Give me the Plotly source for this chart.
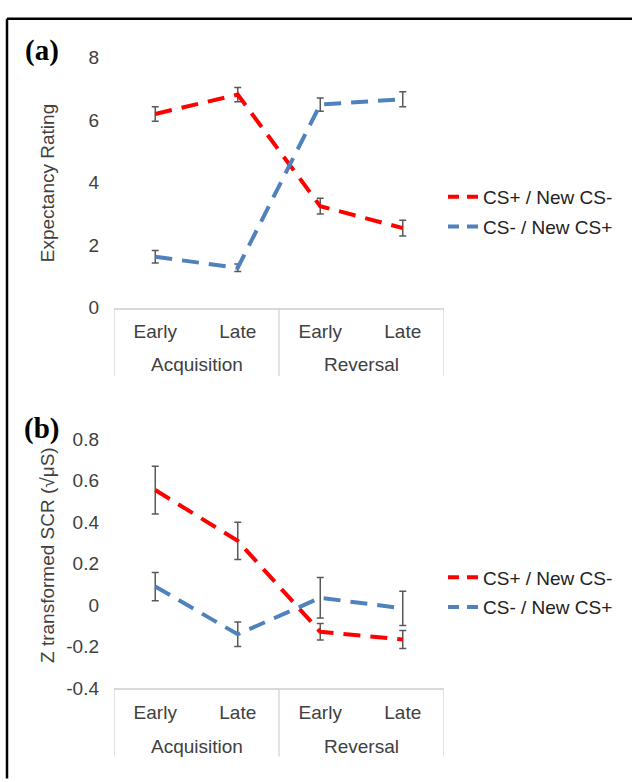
import plotly.graph_objects as go

phases = ["Acquisition", "Acquisition", "Reversal", "Reversal"]
stages = ["Early", "Late", "Early", "Late"]
series_names = ["CS+ / New CS-", "CS- / New CS+"]

# Panel (a): expectancy rating
a_csplus = [6.20, 6.82, 3.25, 2.55]
a_csplus_err = [0.23, 0.23, 0.25, 0.25]
a_csminus = [1.63, 1.28, 6.50, 6.67]
a_csminus_err = [0.20, 0.12, 0.21, 0.24]

# Panel (b): Z transformed SCR
b_csplus = [0.555, 0.310, -0.128, -0.165]
b_csplus_err = [0.115, 0.090, 0.040, 0.043]
b_csminus = [0.090, -0.140, 0.036, -0.015]
b_csminus_err = [0.068, 0.059, 0.098, 0.082]

RED = "#FF0000"
BLUE = "#4F81BD"
ERR = "#595959"
TXT = "#404040"
GRID = "#D9D9D9"
FONT = "Liberation Sans, Arial, sans-serif"
W, H = 632, 782

def px_x(p):
    return p / W

def px_y(p):
    return 1 - p / H

xpos = list(range(len(stages)))

# group spans derived from the phase list
groups = []
for i, ph in enumerate(phases):
    if groups and groups[-1][0] == ph:
        groups[-1][2] = i
    else:
        groups.append([ph, i, i])

fig = go.Figure()

def add_series(vals, errs, color, name, xa, ya, leg):
    fig.add_trace(go.Scatter(
        x=xpos, y=vals, mode="lines", name=name,
        line=dict(color=color, width=4, dash="17px,10px"),
        error_y=dict(type="data", array=errs, visible=True, color=ERR,
                     thickness=1.5, width=3.5),
        xaxis=xa, yaxis=ya, showlegend=False, legendgroup=leg + name,
    ))
    # legend sample with dash pattern sized to the legend symbol
    fig.add_trace(go.Scatter(
        x=[None], y=[None], mode="lines", name=name,
        line=dict(color=color, width=4, dash="11px,8px"),
        xaxis=xa, yaxis=ya, showlegend=True, legend=leg,
        legendgroup=leg + name,
    ))

add_series(a_csplus, a_csplus_err, RED, series_names[0], "x", "y", "legend")
add_series(a_csminus, a_csminus_err, BLUE, series_names[1], "x", "y", "legend")
add_series(b_csplus, b_csplus_err, RED, series_names[0], "x2", "y2", "legend2")
add_series(b_csminus, b_csminus_err, BLUE, series_names[1], "x2", "y2", "legend2")

xdom = [px_x(114), px_x(444)]
xaxis_common = dict(
    domain=xdom, range=[-0.5, len(stages) - 0.5], showline=True,
    linecolor=GRID, linewidth=1.5, tickvals=xpos, ticktext=stages,
    ticks="", showgrid=False, zeroline=False, ticklabelstandoff=6,
    tickfont=dict(family=FONT, size=19, color=TXT), fixedrange=True,
)
yaxis_common = dict(
    showgrid=False, zeroline=False, showline=False, ticks="",
    tickfont=dict(family=FONT, size=19, color=TXT), ticklabelstandoff=14,
    fixedrange=True,
)

legend_common = dict(
    font=dict(family=FONT, size=19, color="#222222"),
    bgcolor="rgba(0,0,0,0)", borderwidth=0, traceorder="grouped",
    tracegroupgap=2, xanchor="left", yanchor="middle",
)

fig.update_layout(
    width=W, height=H, margin=dict(l=0, r=0, t=0, b=0),
    paper_bgcolor="white", plot_bgcolor="white",
    xaxis=dict(xaxis_common, anchor="y"),
    yaxis=dict(yaxis_common, domain=[px_y(306), px_y(49)], range=[0, 8],
               tickvals=[0, 2, 4, 6, 8], anchor="x"),
    xaxis2=dict(xaxis_common, anchor="y2"),
    yaxis2=dict(yaxis_common, domain=[px_y(697), px_y(441)], range=[-0.4, 0.8],
                tickvals=[-0.4, -0.2, 0, 0.2, 0.4, 0.6, 0.8],
                ticktext=["-0.4", "-0.2", "0", "0.2", "0.4", "0.6", "0.8"],
                anchor="x2"),
    legend=dict(legend_common, x=px_x(443), y=px_y(207.5)),
    legend2=dict(legend_common, x=px_x(443), y=px_y(598.5)),
    showlegend=True,
)

annots = [
    dict(text="Expectancy Rating", x=px_x(47), y=px_y(178), textangle=-90,
         font=dict(family=FONT, size=19, color=TXT)),
    dict(text="Z transformed SCR (√μS)", x=px_x(48), y=px_y(560), textangle=-90,
         font=dict(family=FONT, size=19, color=TXT)),
    dict(text="<b>(a)</b>", x=px_x(42), y=px_y(42),
         font=dict(family="Liberation Serif, Times New Roman, serif", size=29, color="black")),
    dict(text="<b>(b)</b>", x=px_x(42), y=px_y(430),
         font=dict(family="Liberation Serif, Times New Roman, serif", size=29, color="black")),
]
for a in annots:
    fig.add_annotation(dict(a, xref="paper", yref="paper", showarrow=False,
                            xanchor="center", yanchor="middle"))

# category table under each panel: group labels and dividers
for xref, axis_px, label_px, bottom_px in [("x", 306, 364, 376), ("x2", 697, 757, 767)]:
    for ph, i0, i1 in groups:
        fig.add_annotation(x=(i0 + i1) / 2, y=px_y(label_px), xref=xref, yref="paper",
                           text=ph, showarrow=False, xanchor="center", yanchor="middle",
                           font=dict(family=FONT, size=19, color=TXT))
    edges = [groups[0][1] - 0.5] + [g[2] + 0.5 for g in groups]
    for e in edges:
        fig.add_shape(type="line", xref=xref, yref="paper", x0=e, x1=e,
                      y0=px_y(axis_px), y1=px_y(bottom_px),
                      line=dict(color=GRID, width=1.5))

# outer frame (left and top edges visible)
fig.add_shape(type="line", xref="paper", yref="paper", x0=px_x(7), x1=1.01,
              y0=px_y(9), y1=px_y(9), line=dict(color="black", width=2.5))
fig.add_shape(type="line", xref="paper", yref="paper", x0=px_x(7), x1=px_x(7),
              y0=px_y(9), y1=-0.01, line=dict(color="black", width=2.5))

fig.write_html(
    "out.html",
    post_script="document.body.style.margin='0';document.body.style.overflow='hidden';",
)
